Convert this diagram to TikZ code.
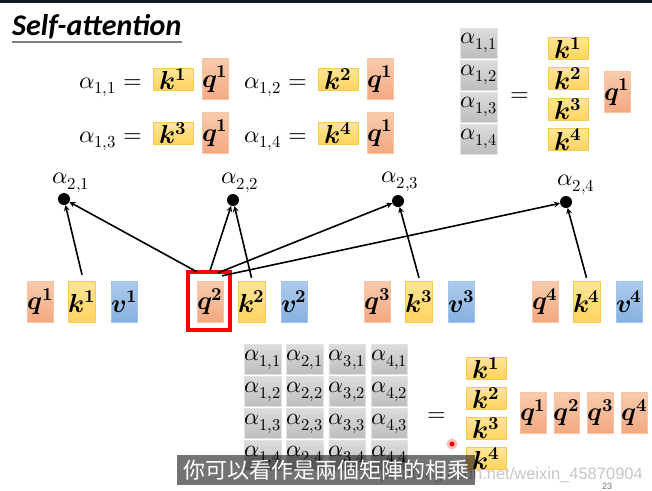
\documentclass[tikz,border=0pt]{standalone}
\usepackage{amsmath,amssymb}
\usepackage{xcolor}
\usepackage{fontspec}
\usepackage{unicode-math}
\setmathfont{Latin Modern Math}
\newfontfamily\titlefont{Carlito}
\newfontfamily\cjkfont{Noto Sans CJK TC}
\newfontfamily\markfont{Liberation Sans}

\definecolor{qtop}{HTML}{F8CBAD}
\definecolor{qbot}{HTML}{F3A982}
\definecolor{qedge}{HTML}{F7C4A6}
\definecolor{ktop}{HTML}{FFE699}
\definecolor{kbot}{HTML}{FFD35E}
\definecolor{kedge}{HTML}{F7C955}
\definecolor{vtop}{HTML}{AECBEC}
\definecolor{vbot}{HTML}{86B1E0}
\definecolor{vedge}{HTML}{A3C4EA}
\definecolor{atop}{HTML}{DCDCDC}
\definecolor{abot}{HTML}{BDBDBD}
\definecolor{aedge}{HTML}{E2E2E2}
\definecolor{topbar}{HTML}{151C28}

\newcommand{\qvec}[1]{$\symbfit{q}^{\symbf{#1}}$}
\newcommand{\kvec}[1]{$\symbfit{k}^{\symbf{#1}}$}
\newcommand{\vvec}[1]{$\symbfit{v}^{\symbf{#1}}$}

\begin{document}
\begin{tikzpicture}[x=1pt,y=-1pt,
  lbl/.style={inner sep=0pt,font=\fontsize{24}{26}\selectfont},
  qbox/.style={draw=qedge,top color=qtop,bottom color=qbot,minimum width=23pt,minimum height=41pt,inner sep=0pt,font=\fontsize{26}{28}\selectfont},
  kbox/.style={qbox,draw=kedge,top color=ktop,bottom color=kbot},
  vbox/.style={qbox,draw=vedge,top color=vtop,bottom color=vbot},
  kwide/.style={kbox,minimum width=40pt,minimum height=22pt},
  abox/.style={draw=aedge,top color=atop,bottom color=abot,minimum width=35pt,minimum height=30pt,inner sep=0pt,font=\fontsize{23.5}{26}\selectfont},
  adot/.style={circle,fill=black,minimum size=12pt,inner sep=0pt},
  arr/.style={-stealth,line width=1.6pt}]
\fill[white] (0,0) rectangle (652,490);
\useasboundingbox (0,0) rectangle (652,490);
\fill[topbar] (0,0) rectangle (652,2.5);

\node[anchor=base west,inner sep=0pt,font=\titlefont\bfseries\itshape\fontsize{30}{30}\selectfont] (title) at (12,35) {Self-attention};
\draw[gray,line width=1.5pt] ([yshift=-7pt]title.base west) -- ([yshift=-7pt]title.base east);

% alpha_{1,i} = k^i q^1
\foreach \n/\x/\y in {1/0/0,2/165/0,3/0/54,4/165/54}{
  \node[lbl,anchor=base west] (e\n) at (79+\x,88+\y) {$\alpha_{1,\n} =$};
  \node[kwide] (ek\n) at (173+\x,79+\y) {\kvec{\n}};
  \node[qbox] (eq\n) at (215+\x,79+\y) {\qvec{1}};
}

% column form
\foreach \j in {1,...,4}{
  \node[abox] (c\j) at (478.5,43+32*\j-32) {$\alpha_{1,\j}$};
  \node[kwide] (ck\j) at (568,48+30.5*\j-30.5) {\kvec{\j}};
}
\node[lbl] (ceq) at (520,97) {$=$};
\node[qbox] (cq) at (617,92) {\qvec{1}};

% attention scores of q^2
\node[adot] (a21) at (64,199) {};
\node[adot] (a22) at (233,200) {};
\node[adot] (a23) at (398,201) {};
\node[adot] (a24) at (566,202) {};
\node[lbl] (l21) at (71,183) {$\alpha_{2,1}$};
\node[lbl] (l22) at (240,183) {$\alpha_{2,2}$};
\node[lbl] (l23) at (400,182) {$\alpha_{2,3}$};
\node[lbl] (l24) at (576,185) {$\alpha_{2,4}$};

\foreach \i/\x in {1/0,2/169.5,3/337,4/504.5}{
  \node[qbox] (q\i) at (40.5+\x,301.5) {\qvec{\i}};
  \node[kbox] (k\i) at (82+\x,301.5) {\kvec{\i}};
  \node[vbox] (v\i) at (124.5+\x,301.5) {\vvec{\i}};
}
\draw[red,line width=4pt] ([xshift=-8.5pt,yshift=9pt]q2.north west) rectangle ([xshift=6.5pt,yshift=-8pt]q2.south east);

\draw[arr] ([yshift=6pt]k1.north) -- (a21);
\draw[arr] ([yshift=9pt]q2.north west) -- (a21);
\draw[arr] ([yshift=10pt]q2.north) -- (a22);
\draw[arr] ([yshift=3pt]k2.north) -- (a22);
\draw[arr] ([xshift=8pt,yshift=8pt]q2.north) -- (a23);
\draw[arr] ([yshift=3pt]k3.north) -- (a23);
\draw[arr] ([xshift=12pt,yshift=5pt]q2.north) -- (a24);
\draw[arr] ([yshift=3pt]k4.north) -- (a24);

% matrix form
\foreach \i in {1,...,4}{
  \foreach \j in {1,...,4}{
    \node[abox] (m\i\j) at (262.5+42.3*\i-42.3,359.5+32*\j-32) {$\alpha_{\i,\j}$};
  }
  \node[kwide] (mk\i) at (486,368+30.2*\i-30.2) {\kvec{\i}};
  \node[qbox] (mq\i) at (533+33.7*\i-33.7,412.5) {\qvec{\i}};
}
\node[lbl] (meq) at (436.5,417) {$=$};

\fill[red!25] (452,444) circle (5.5);
\fill[red] (452,444) circle (2.5);

\node[anchor=base east,inner sep=0pt,text=black!22,font=\markfont\fontsize{16.5}{18}\selectfont] (mark) at (643,479) {https://blog.csdn.net/weixin\_45870904};
\node[fill=black,fill opacity=0.55,text opacity=1,text=white,minimum width=298pt,minimum height=30pt,inner sep=0pt,font=\cjkfont\fontsize{22}{24}\selectfont] (sub) at (326,470) {你可以看作是兩個矩陣的相乘};
\node[text=black!55,font=\markfont\fontsize{9}{10}\selectfont] (page) at (607,486) {23};
\end{tikzpicture}
\end{document}
